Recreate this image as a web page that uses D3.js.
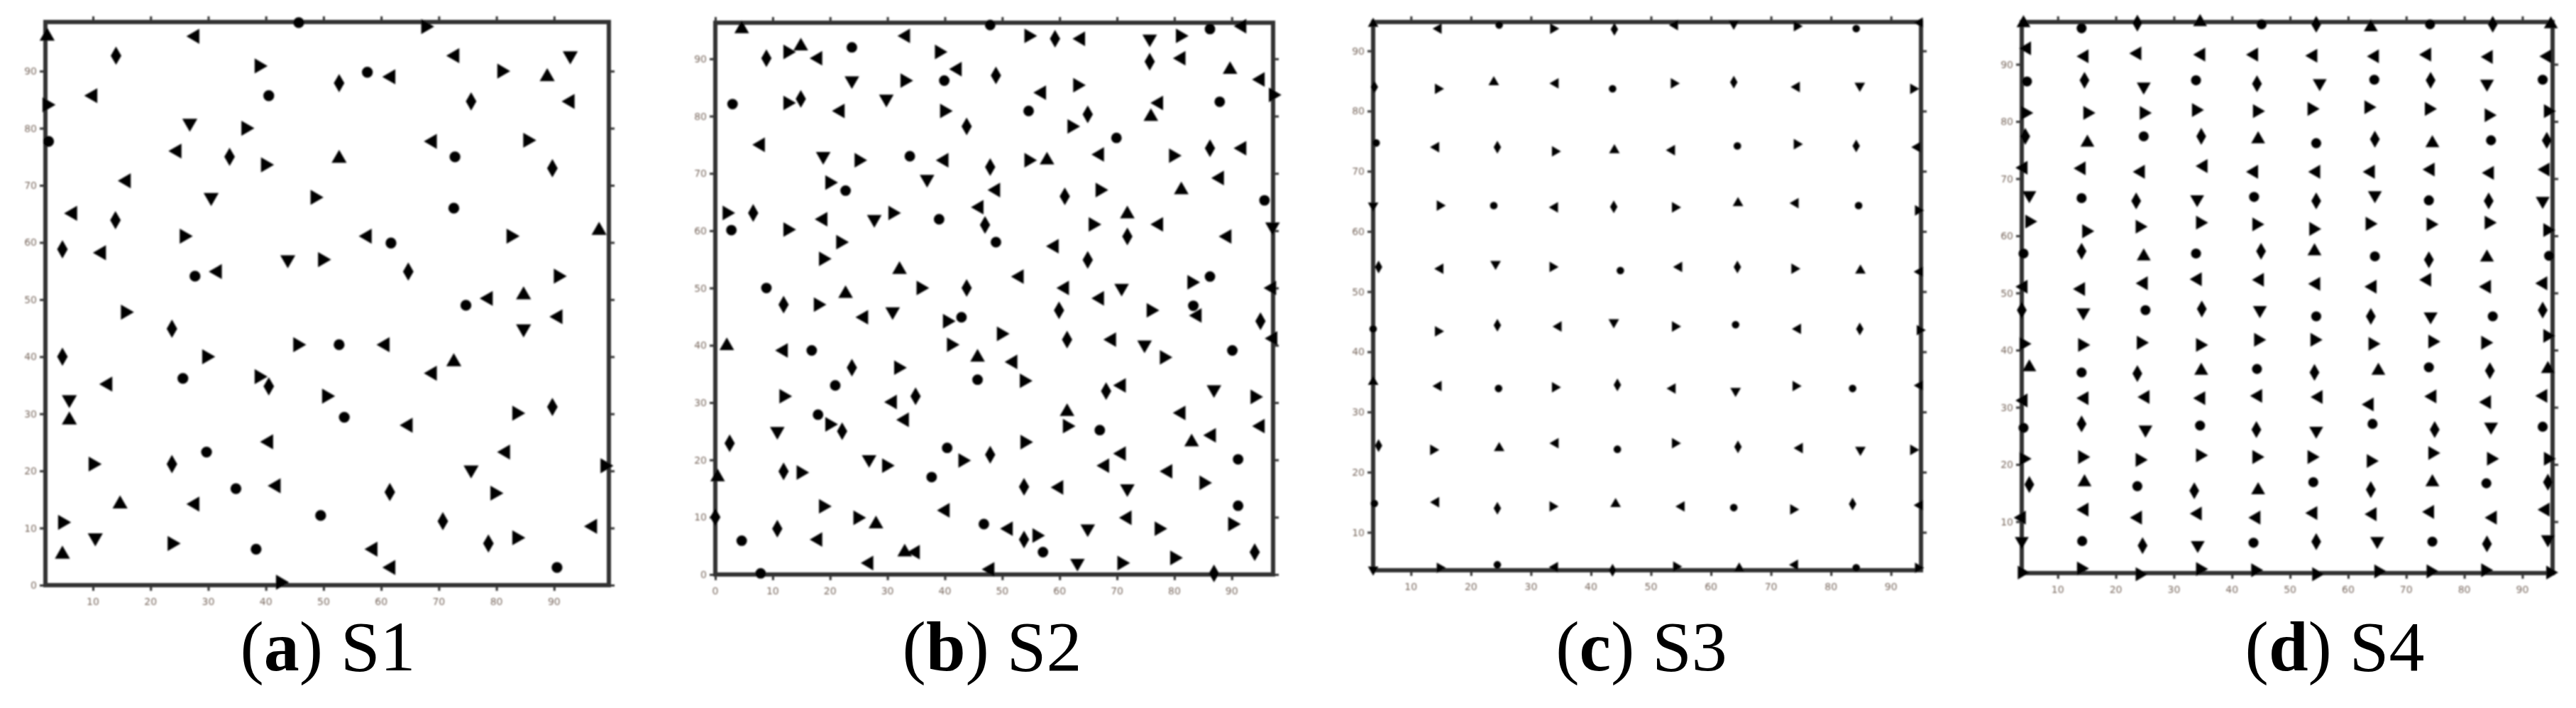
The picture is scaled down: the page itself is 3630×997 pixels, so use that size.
<!DOCTYPE html>
<html>
<head>
<meta charset="utf-8">
<script src="https://cdn.jsdelivr.net/npm/d3@7"></script>
<style>
  body { margin: 0; background: #fff; }
  svg { display: block; }
</style>
</head>
<body>
<div id="chart-area"></div>
<script>
// sensor layouts, [x, y] in field units
let s1Points = [
  [2.05,96.1],[27.7,96.1],[45.7,98.5],[67.7,97.8],[14.0,92.7],[72.8,92.7],[92.8,92.7],[38.8,90.9],[57.6,89.8],[61.7,89.0],
  [52.7,87.9],[80.9,90.0],[88.8,89.0],[10.0,85.7],[40.5,85.7],[2.0,84.1],[75.6,84.7],[92.8,84.7],[26.8,80.9],[36.5,80.0],
  [2.3,77.7],[24.6,76.0],[33.7,75.0],[39.9,73.6],[52.7,74.7],[68.9,77.7],[72.8,75.0],[85.4,77.9],[89.7,73.0],[15.8,70.8],
  [30.5,67.9],[48.5,67.9],[72.6,66.0],[6.5,65.1],[13.9,63.9],[25.8,61.1],[97.8,62.1],[57.6,61.1],[61.7,59.9],[82.5,61.1],
  [4.7,58.8],[11.5,58.2],[43.8,57.0],[49.8,57.0],[27.7,54.1],[31.6,54.9],[64.7,54.9],[90.7,54.1],[84.7,50.8],[78.6,50.2],
  [74.7,49.0],[15.6,47.8],[23.7,44.9],[90.7,47.0],[84.7,44.9],[45.5,42.1],[52.7,42.1],[60.7,42.1],[4.7,40.0],[29.7,40.0],
  [72.6,39.1],[68.9,37.1],[25.6,36.2],[38.8,36.5],[40.5,34.8],[12.6,35.2],[5.9,32.5],[50.5,33.1],[53.6,29.4],[64.7,28.0],
  [89.7,31.2],[83.5,30.1],[5.9,28.9],[40.5,25.1],[29.7,23.3],[10.0,21.2],[23.7,21.2],[81.6,23.3],[75.6,20.2],[98.8,20.9],
  [34.8,16.9],[41.8,17.4],[61.5,16.3],[79.7,16.1],[14.7,14.2],[27.7,14.2],[49.5,12.2],[4.7,11.0],[70.7,11.2],[96.7,10.3],
  [10.4,8.3],[23.7,7.3],[38.3,6.3],[58.6,6.3],[78.6,7.3],[83.5,8.3],[4.7,5.4],[61.7,3.1],[90.5,3.1],[42.5,0.5]
];

let s2Points = [
  [4.6,95.2],[33.2,94.0],[47.9,95.9],[54.6,94.0],[59.2,93.5],[63.7,93.5],[75.7,93.5],[81.0,94.0],[86.2,95.2],[91.8,95.7],
  [8.9,90.1],[12.6,91.2],[14.9,92.2],[17.9,90.1],[23.8,92.0],[39.0,91.2],[75.7,89.5],[81.2,90.1],
  [23.8,86.2],[33.0,86.2],[39.9,86.2],[42.2,88.2],[48.9,87.1],[63.1,85.4],[89.7,88.1],[95.0,86.4],
  [3.0,82.1],[12.6,82.3],[14.9,83.0],[21.8,80.9],[29.8,83.0],[39.9,80.9],[54.6,80.9],[56.9,84.1],[64.9,80.3],[62.1,78.2],
  [75.9,79.9],[77.3,82.3],[87.9,82.5],[97.2,83.7],
  [43.8,78.2],[7.9,75.0],[18.8,73.0],[25.0,72.3],[33.9,73.0],[39.9,72.3],[47.9,71.1],[54.6,72.3],[57.8,72.3],[67.0,73.3],
  [69.9,76.2],[79.8,73.1],[86.2,74.4],[91.8,74.4],[36.9,69.0],
  [19.9,68.4],[22.7,67.0],[48.9,67.1],[60.9,66.0],[67.0,67.1],[81.2,67.1],[87.9,69.2],[95.7,65.3],
  [2.0,63.1],[6.6,63.1],[18.8,62.0],[27.7,62.0],[30.9,63.1],[39.0,62.0],[46.0,64.1],[47.0,61.0],[65.8,61.1],[71.8,62.9],
  [77.3,61.1],[2.8,60.1],[12.6,60.2],[71.8,59.0],[89.2,59.0],[97.1,60.7],
  [21.8,58.0],[48.9,58.0],[59.1,57.3],[64.9,54.9],[18.8,55.1],[32.1,53.2],[53.0,52.0],
  [8.9,50.0],[35.8,50.0],[43.8,50.0],[60.9,50.0],[70.8,50.0],[83.0,51.0],[86.2,52.0],[97.0,50.0],[11.9,47.1],[17.9,47.1],
  [22.7,49.0],[67.0,48.2],[83.3,46.9],[75.9,46.1],[59.9,46.1],
  [25.9,44.9],[30.9,45.9],[40.4,44.2],[42.9,44.9],[84.0,45.2],[95.0,44.2],[49.8,42.0],[2.0,39.9],[11.9,39.1],[16.8,39.1],
  [41.1,40.1],[61.3,41.0],[69.1,41.0],[74.8,40.1],[78.2,37.9],[90.1,39.1],[97.2,41.2],
  [23.8,36.1],[31.9,36.1],[45.7,37.9],[51.9,37.1],[45.7,34.0],[53.8,33.8],[68.1,32.0],[70.8,33.0],[86.9,32.3],
  [11.9,31.1],[20.9,33.0],[30.9,30.1],[34.9,31.1],[94.0,31.0],[61.3,28.4],[81.2,28.2],[17.9,27.9],[19.9,26.2],[22.1,25.0],
  [33.0,27.0],[10.8,25.0],[61.3,25.9],[67.0,25.2],[95.0,25.9],
  [2.5,22.9],[53.9,23.1],[83.0,23.1],[86.5,24.3],[40.4,22.1],[43.1,19.9],[47.9,20.9],[70.8,21.1],[26.8,20.1],[29.8,19.0],
  [91.1,20.1],[67.9,19.0],[11.9,18.0],[14.9,17.8],[0.4,17.0],[78.9,18.0],
  [37.7,17.0],[85.1,16.0],[53.8,15.3],[59.9,15.2],[71.8,15.0],[18.8,11.9],[91.1,12.0],[40.1,11.2],
  [0.0,10.0],[24.8,9.9],[28.0,8.8],[71.8,9.9],[46.8,8.8],[90.1,8.8],[10.8,8.0],[51.1,8.0],[64.9,8.0],[77.3,8.0],
  [4.6,5.9],[17.9,6.1],[53.8,6.1],[56.0,6.8],
  [33.0,3.9],[34.9,3.9],[57.1,3.9],[80.0,2.9],[94.0,3.9],[26.8,2.0],[63.1,2.0],[70.8,2.0],[7.9,0.2],[47.9,0.9],[86.9,0.2]
];

let s3Points = [
  [3.7,94.5],[14.6,93.7],[24.7,94.3],[33.7,93.7],[43.9,93.6],[54.0,94.3],[63.8,94.5],[74.3,94.1],[84.2,93.7],[94.8,94.7],
  [3.9,84.0],[14.5,83.7],[23.8,84.8],[34.1,84.6],[43.6,83.7],[53.8,84.6],[63.8,84.8],[74.3,84.0],[84.8,84.2],[93.7,83.7],
  [4.2,74.7],[14.2,74.0],[24.4,74.0],[34.0,73.3],[43.9,73.5],[53.5,73.5],[64.4,74.2],[74.3,74.5],[84.2,74.2],[94.4,74.0],
  [3.7,64.3],[14.8,64.3],[23.8,64.3],[34.0,64.0],[43.8,64.1],[54.0,64.0],[64.5,64.7],[74.1,64.7],[84.6,64.3],[94.5,63.5],
  [4.6,54.1],[14.9,53.8],[24.1,54.6],[33.6,54.1],[44.9,53.5],[54.7,54.1],[64.4,54.1],[73.9,53.8],[84.9,53.5],[94.8,53.3],
  [3.7,43.8],[14.5,43.4],[24.4,44.4],[34.6,44.2],[43.8,44.9],[54.0,44.2],[64.1,44.5],[74.5,43.8],[84.8,43.8],[94.8,43.6],
  [3.7,35.0],[14.6,34.3],[24.6,33.9],[34.0,34.1],[44.4,34.5],[53.6,33.9],[64.1,33.5],[74.1,34.3],[83.6,33.9],[94.8,34.4],
  [4.6,24.4],[13.7,23.7],[24.7,24.0],[34.1,24.8],[44.4,23.8],[54.0,24.8],[64.5,24.2],[74.8,24.0],[84.9,23.7],[93.7,23.7],
  [3.9,14.8],[14.2,15.0],[24.4,14.0],[33.6,14.3],[44.1,14.7],[55.1,14.3],[63.8,14.1],[73.7,13.8],[83.6,14.7],[94.8,14.5],
  [3.7,3.8],[14.8,4.1],[24.4,4.6],[34.0,4.2],[43.6,3.7],[54.2,4.3],[64.7,4.0],[74.0,4.6],[84.2,4.1],[94.5,4.1]
];

let s4Points = [
  [4.1,97.2],[4.7,92.8],[4.7,87.0],[4.4,81.5],[4.4,77.4],[4.1,71.9],[5.1,67.1],[5.1,62.5],[4.1,56.9],[4.1,51.1],
  [3.8,47.0],[4.1,41.1],[5.1,37.0],[4.1,31.2],[4.1,26.4],[4.1,21.0],[5.1,16.5],[3.8,10.7],[3.8,6.6],[3.8,1.1],
  [14.1,96.3],[14.6,91.4],[14.6,87.2],[15.1,81.5],[15.1,76.3],[14.1,71.8],[14.1,66.6],[14.9,60.8],[14.1,57.3],[14.0,50.7],
  [14.4,46.6],[14.2,40.9],[14.1,36.1],[14.6,31.6],[14.1,27.1],[14.2,21.3],[14.6,16.9],[14.6,12.1],[14.2,6.6],[14.0,1.8],
  [23.7,97.2],[23.7,91.9],[24.8,86.1],[24.8,81.5],[24.8,77.4],[24.3,71.2],[23.5,66.1],[24.1,61.6],[24.8,56.4],[24.8,51.7],
  [25.1,47.0],[24.3,41.3],[23.7,35.9],[25.1,31.8],[25.1,26.1],[24.1,20.8],[23.7,16.2],[23.8,10.7],[24.6,5.8],[24.1,0.8],
  [34.5,97.4],[34.7,91.7],[33.8,87.2],[33.8,82.0],[34.7,77.4],[35.1,72.2],[34.0,66.4],[34.5,62.3],[33.8,56.9],[34.1,52.4],
  [34.8,47.2],[34.5,40.9],[34.7,36.4],[34.7,31.6],[34.5,26.8],[34.5,21.6],[33.5,15.4],[34.1,11.4],[34.1,5.9],[34.5,1.7],
  [45.1,97.0],[43.8,91.7],[44.3,86.6],[44.3,81.8],[44.5,76.9],[43.8,71.2],[43.8,66.8],[44.2,62.0],[45.0,57.3],[44.8,52.3],
  [44.8,47.0],[44.5,41.8],[44.3,36.7],[44.5,32.0],[44.2,26.1],[44.2,21.3],[44.5,15.5],[44.2,10.7],[43.7,6.3],[44.0,1.5],
  [54.5,97.0],[54.0,91.5],[55.1,86.7],[53.7,82.2],[54.5,76.2],[54.5,71.2],[54.5,66.1],[54.0,61.2],[54.2,57.3],[54.5,51.6],
  [54.5,45.9],[54.2,41.8],[54.2,36.1],[54.9,31.8],[54.5,25.9],[53.7,21.3],[54.0,16.9],[54.0,11.5],[54.5,6.5],[54.5,0.8],
  [63.9,96.5],[64.6,91.4],[64.5,87.3],[63.5,82.5],[64.6,76.9],[63.9,71.2],[64.6,67.1],[63.7,62.1],[64.6,56.4],[64.2,51.1],
  [63.9,45.9],[64.2,41.1],[65.2,36.4],[63.7,30.5],[64.2,27.1],[63.9,20.6],[63.9,15.6],[64.2,11.3],[65.0,6.6],[65.2,1.3],
  [74.1,97.0],[73.6,91.7],[74.2,87.2],[73.9,82.2],[74.5,76.2],[74.2,71.6],[73.9,66.2],[74.2,62.0],[73.9,55.8],[73.6,52.3],
  [74.2,45.9],[74.5,41.5],[73.9,37.0],[74.5,31.9],[74.9,26.1],[74.5,22.0],[74.5,16.9],[74.1,11.7],[74.5,6.5],[74.2,1.3],
  [84.9,97.0],[84.2,91.3],[83.9,86.6],[84.2,81.1],[84.6,76.7],[84.4,71.0],[84.2,66.1],[84.2,62.3],[83.9,56.2],[83.9,51.1],
  [84.9,45.9],[83.6,41.3],[84.4,36.4],[83.9,30.9],[84.6,26.6],[84.6,21.0],[83.8,16.7],[84.9,10.7],[83.9,6.1],[83.6,1.5],
  [94.9,97.0],[94.3,91.4],[93.5,87.3],[94.4,81.8],[94.2,76.7],[94.0,71.6],[93.5,66.1],[94.3,61.0],[94.6,56.5],[93.6,51.7],
  [93.5,47.0],[94.3,42.5],[94.4,36.7],[93.6,32.0],[93.5,26.6],[94.4,21.0],[94.4,16.9],[94.0,12.1],[94.4,6.9],[94.8,1.1]
];

let ticksFrom10 = [10, 20, 30, 40, 50, 60, 70, 80, 90];
let ticksFrom0 = [0, 10, 20, 30, 40, 50, 60, 70, 80, 90];
let captionLetters = ["a", "b", "c", "d"];
let captionNames = ["S1", "S2", "S3", "S4"];

// panel frames in page pixels and the axis limits of each panel
let panels = [
  {points: s1Points, box: [64, 858, 31, 824],  xDom: [1.75, 99.5], yDom: [0, 98.6],  xTicks: ticksFrom10, yTicks: ticksFrom0,  size: 150, cx: 462},
  {points: s2Points, box: [1008, 1794, 32, 809], xDom: [0, 97.2], yDom: [0, 96.3], xTicks: ticksFrom0, yTicks: ticksFrom0,  size: 140, cx: 1398},
  {points: s3Points, box: [1935, 2707, 31, 803], xDom: [3.7, 95], yDom: [3.7, 94.8], xTicks: ticksFrom10, yTicks: ticksFrom10, size: 65, cx: 2313},
  {points: s4Points, box: [2849, 3597, 31, 807], xDom: [3.8, 95.2], yDom: [1, 97.4], xTicks: ticksFrom10, yTicks: ticksFrom10, size: 125, cx: 3290}
];

let width = 3630;
let height = 997;
let svg = d3.select("#chart-area")
            .append("svg")
            .attr("width", width)
            .attr("height", height);

svg.append("rect").attr("width", width).attr("height", height).attr("fill", "#fff");

// the source is a soft scan, so blur marks and labels slightly
let defs = svg.append("defs");
defs.append("filter").attr("id", "soft")
    .append("feGaussianBlur").attr("stdDeviation", 1.3);
defs.append("filter").attr("id", "softer")
    .append("feGaussianBlur").attr("stdDeviation", 1.0);

let shapes = [d3.symbolTriangle, d3.symbolTriangle, d3.symbolDiamond, d3.symbolTriangle, d3.symbolCircle, d3.symbolTriangle];

panels.forEach(function(p, k){
    let [x0, x1, y0, y1] = p.box;
    let x = d3.scaleLinear().domain(p.xDom).range([x0, x1]);
    let y = d3.scaleLinear().domain(p.yDom).range([y1, y0]);

    let g = svg.append("g").attr("filter", "url(#soft)");

    // outward ticks on all four sides
    let tickLen = 8;
    let axisColor = "#333";
    g.append("g").attr("transform", "translate(0," + y1 + ")")
        .call(d3.axisBottom(x).tickValues(p.xTicks).tickSize(tickLen).tickFormat(""));
    g.append("g").attr("transform", "translate(0," + y0 + ")")
        .call(d3.axisTop(x).tickValues(p.xTicks).tickSize(tickLen).tickFormat(""));
    g.append("g").attr("transform", "translate(" + x0 + ",0)")
        .call(d3.axisLeft(y).tickValues(p.yTicks).tickSize(tickLen).tickFormat(""));
    g.append("g").attr("transform", "translate(" + x1 + ",0)")
        .call(d3.axisRight(y).tickValues(p.yTicks).tickSize(tickLen).tickFormat(""));
    g.selectAll(".domain").remove();
    g.selectAll(".tick line").attr("stroke", axisColor).attr("stroke-width", 3);

    g.append("rect")
        .attr("x", x0).attr("y", y0)
        .attr("width", x1 - x0).attr("height", y1 - y0)
        .attr("fill", "none")
        .attr("stroke", axisColor)
        .attr("stroke-width", 6);

    g.selectAll("path.pt")
        .data(p.points)
        .enter()
        .append("path")
        .attr("class", "pt")
        .attr("d", function(d, i){
            return d3.symbol().type(shapes[(i * 5) % shapes.length]).size(p.size)();
        })
        .attr("transform", function(d, i){
            return "translate(" + x(d[0]) + "," + y(d[1]) + ") rotate(" + ((i * 7) % 4) * 90 + ")";
        })
        .attr("fill", "#000")
        .attr("stroke", "#000")
        .attr("stroke-width", 1.5);

    // small blurry tick labels
    let lab = svg.append("g").attr("filter", "url(#softer)")
        .style("font-family", "'DejaVu Sans', sans-serif")
        .style("font-size", "14px")
        .attr("fill", "#7a6a60");
    lab.selectAll("text.xl")
        .data(p.xTicks)
        .enter()
        .append("text")
        .attr("x", function(d){ return x(d); })
        .attr("y", y1 + 28)
        .attr("text-anchor", "middle")
        .text(function(d){ return d; });
    lab.selectAll("text.yl")
        .data(p.yTicks)
        .enter()
        .append("text")
        .attr("x", x0 - 12)
        .attr("y", function(d){ return y(d) + 5; })
        .attr("text-anchor", "end")
        .text(function(d){ return d; });

    // caption under the panel
    let cap = svg.append("text")
        .attr("x", p.cx)
        .attr("y", 944)
        .attr("text-anchor", "middle")
        .style("font-family", "'Liberation Serif', 'Times New Roman', serif")
        .style("font-size", "100px")
        .attr("fill", "#000");
    cap.append("tspan").text("(");
    cap.append("tspan").style("font-weight", "bold").text(captionLetters[k]);
    cap.append("tspan").text(") " + captionNames[k]);
});
</script>
</body>
</html>
